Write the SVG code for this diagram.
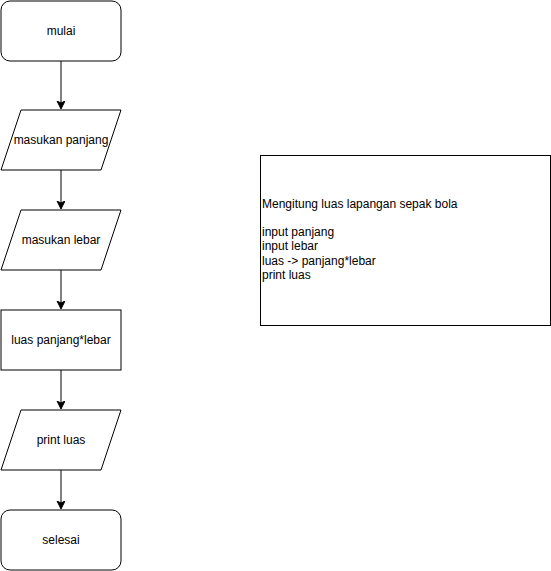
<svg xmlns="http://www.w3.org/2000/svg" width="551" height="571" viewBox="0 0 551 571">
<style>
.s{fill:#fff;stroke:#000;stroke-width:1}
.t{font-family:"Liberation Sans",Arial,sans-serif;font-size:12px;fill:#000}
.c{text-anchor:middle;dominant-baseline:central}
.e{stroke:#000;stroke-width:1;fill:none}
</style>
<defs>
<marker id="a" markerWidth="10" markerHeight="10" refX="7" refY="4" orient="auto" markerUnits="userSpaceOnUse">
<path d="M0,0 L8,4 L0,8 L2,4 Z" fill="#000" stroke="#000" stroke-width="1"/>
</marker>
</defs>
<rect width="551" height="571" fill="#fff"/>
<g id="edges">
<path class="e" d="M61,61 V108" marker-end="url(#a)"/>
<path class="e" d="M61,170 V208" marker-end="url(#a)"/>
<path class="e" d="M61,270 V308" marker-end="url(#a)"/>
<path class="e" d="M61,370 V408" marker-end="url(#a)"/>
<path class="e" d="M61,470 V508" marker-end="url(#a)"/>
</g>
<g id="mulai">
<rect class="s" x="1" y="1" width="120" height="60" rx="9" ry="9"/>
<text class="t c" x="61" y="30.5">mulai</text>
</g>
<g id="panjang">
<path class="s" d="M21,110 H121 L101,170 H1 Z"/>
<text class="t c" x="61" y="140">masukan panjang</text>
</g>
<g id="lebar">
<path class="s" d="M21,210 H121 L101,270 H1 Z"/>
<text class="t c" x="61" y="240">masukan lebar</text>
</g>
<g id="luas">
<rect class="s" x="1" y="310" width="120" height="60"/>
<text class="t c" x="61" y="340">luas panjang*lebar</text>
</g>
<g id="print">
<path class="s" d="M21,410 H121 L101,470 H1 Z"/>
<text class="t c" x="61" y="440">print luas</text>
</g>
<g id="selesai">
<rect class="s" x="1" y="510" width="120" height="60" rx="9" ry="9"/>
<text class="t c" x="61" y="540">selesai</text>
</g>
<g id="note">
<rect class="s" x="260.5" y="155.5" width="290" height="170"/>
<text class="t" x="262" y="208">Mengitung luas lapangan sepak bola</text>
<text class="t" x="262" y="236">input panjang</text>
<text class="t" x="262" y="250">input lebar</text>
<text class="t" x="262" y="265">luas -&gt; panjang*lebar</text>
<text class="t" x="262" y="279">print luas</text>
</g>
</svg>
